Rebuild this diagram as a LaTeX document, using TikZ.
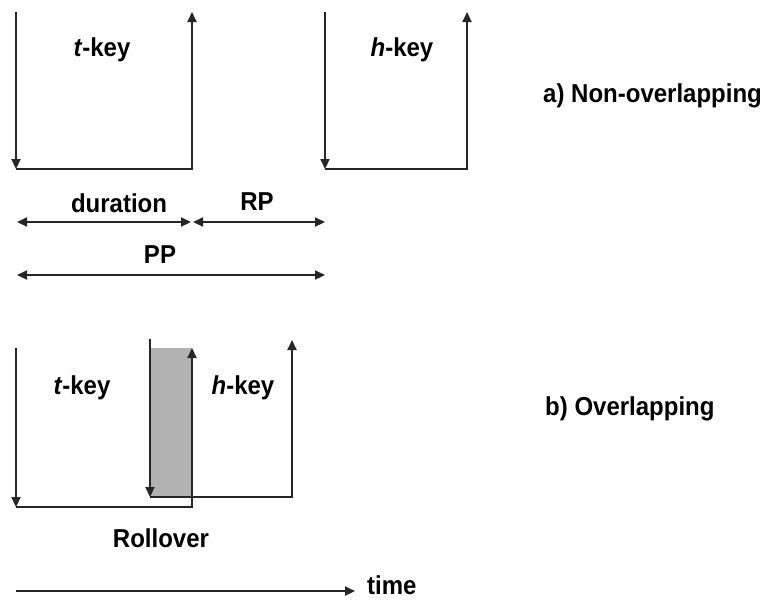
\documentclass[tikz,border=0pt]{standalone}
\usepackage{fontspec}
\setmainfont{Liberation Sans}
\usetikzlibrary{arrows.meta}
\begin{document}
\begin{tikzpicture}[x=1pt,y=-1pt,
  ln/.style={line width=2.2pt, black!85},
  tip/.style={-{Triangle[length=10pt,width=9pt]}},
  dtip/.style={{Triangle[length=10pt,width=9pt]}-{Triangle[length=10pt,width=9pt]}},
  lbl/.style={font=\fontsize{24}{26}\bfseries\selectfont, inner sep=0pt, yscale=1.08}]
\useasboundingbox (0,0) rectangle (775,600);
% ---- a) non-overlapping
\coordinate (t1a) at (16,12);
\coordinate (t1b) at (16,169);
\coordinate (t1c) at (192,169);
\coordinate (t1d) at (192,12);
\draw[ln,tip] (t1a) -- (t1b);
\draw[ln,tip] (t1b) -- (t1c) -- (t1d);
\node[lbl] (tk1) at (102,50) {\textit{t}-key};
\coordinate (h1a) at (325,12);
\coordinate (h1b) at (325,169);
\coordinate (h1c) at (467,169);
\coordinate (h1d) at (467,12);
\draw[ln,tip] (h1a) -- (h1b);
\draw[ln,tip] (h1b) -- (h1c) -- (h1d);
\node[lbl] (hk1) at (402,50) {\textit{h}-key};
\node[lbl, anchor=west] (na) at (543,96) {a) Non-overlapping};
% dimension arrows
\coordinate (d1) at (17,222);
\coordinate (d2) at (191,222);
\coordinate (r1) at (193,222);
\coordinate (r2) at (325,222);
\coordinate (p1) at (17,275);
\coordinate (p2) at (325,275);
\draw[ln,dtip] (d1) -- (d2);
\draw[ln,dtip] (r1) -- (r2);
\draw[ln,dtip] (p1) -- (p2);
\node[lbl] (dur) at (119,203) {duration};
\node[lbl] (rp) at (257,202) {RP};
\node[lbl] (pp) at (160,255) {PP};
% ---- b) overlapping
\coordinate (g1) at (150,348);
\coordinate (g2) at (192,497);
\fill[gray!60] (g1) rectangle (g2);
\coordinate (t2a) at (16,348);
\coordinate (t2b) at (16,507);
\coordinate (t2c) at (192,507);
\coordinate (t2d) at (192,348);
\draw[ln,tip] (t2a) -- (t2b);
\draw[ln,tip] (t2b) -- (t2c) -- (t2d);
\coordinate (h2a) at (150,339);
\coordinate (h2b) at (150,497);
\coordinate (h2c) at (292,497);
\coordinate (h2d) at (292,340);
\draw[ln,tip] (h2a) -- (h2b);
\draw[ln,tip] (h2b) -- (h2c) -- (h2d);
\node[lbl] (tk2) at (82,388) {\textit{t}-key};
\node[lbl] (hk2) at (243,388) {\textit{h}-key};
\node[lbl, anchor=west] (nb) at (545,409) {b) Overlapping};
\node[lbl] (ro) at (161,538) {Rollover};
\coordinate (ta) at (16,591);
\coordinate (tb) at (355,591);
\draw[ln,tip] (ta) -- (tb);
\node[lbl, anchor=west] (tm) at (367,585) {time};
\end{tikzpicture}
\end{document}
